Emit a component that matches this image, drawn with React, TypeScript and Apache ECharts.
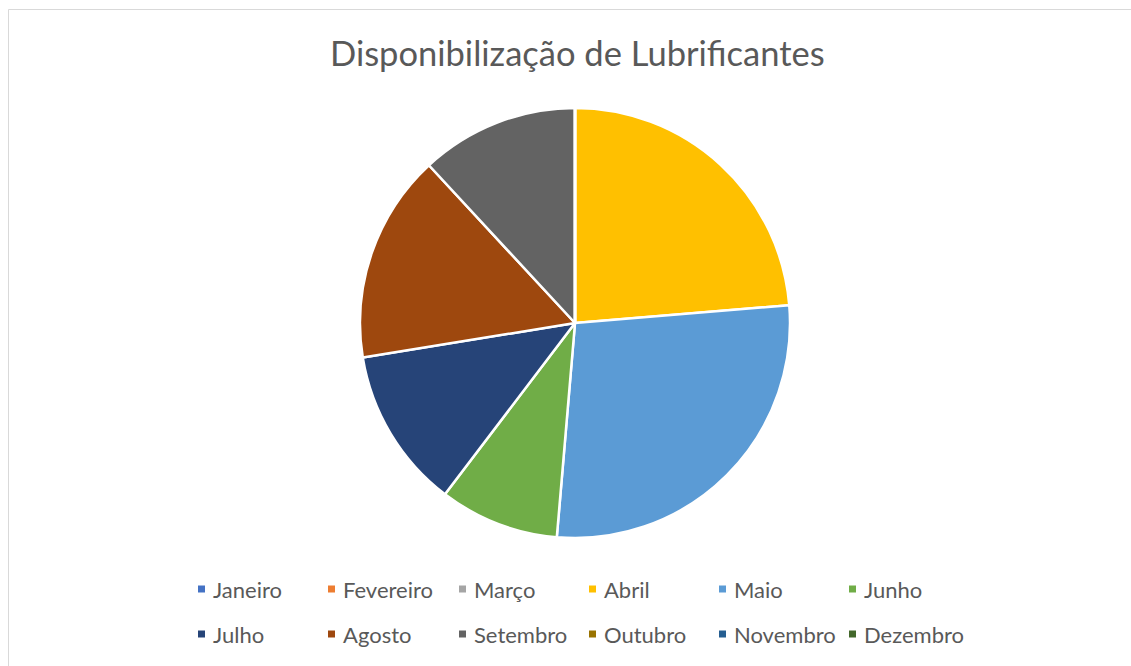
import React, { useEffect, useRef } from "react";
import * as echarts from "echarts";

const title = "Disponibilização de Lubrificantes";
const months = [
  "Janeiro", "Fevereiro", "Março", "Abril", "Maio", "Junho",
  "Julho", "Agosto", "Setembro", "Outubro", "Novembro", "Dezembro",
];
const values = [0, 0, 0, 23.7, 27.7, 9.0, 12.1, 15.7, 11.9, 0, 0, 0];
const colors = [
  "#4472C4", "#ED7D31", "#A5A5A5", "#FFC000", "#5B9BD5", "#70AD47",
  "#264478", "#9E480E", "#636363", "#997300", "#255E91", "#43682B",
];

export default function App() {
  const ref = useRef<HTMLDivElement>(null);
  useEffect(() => {
    if (!ref.current) return;
    const chart = echarts.init(ref.current, undefined, { renderer: "svg" });
    const font = "Lato, 'Open Sans', sans-serif";
    const legendLeft = [196, 326, 457, 587, 717, 847];
    const legendTop = [578, 623];
    const legends = months.map((m, i) => ({
      data: [m],
      left: legendLeft[i % 6],
      top: legendTop[Math.floor(i / 6)],
      orient: "horizontal",
      icon: "rect",
      itemWidth: 9,
      itemHeight: 9,
      padding: 0,
      selectedMode: false,
      textStyle: {
        fontFamily: font,
        fontSize: 22,
        color: "#595959",
        padding: [0, 0, 0, 2],
      },
    }));
    chart.setOption({
      animation: false,
      color: colors,
      title: {
        text: title,
        left: 330,
        top: 35,
        padding: 0,
        textStyle: {
          fontFamily: font,
          fontSize: 34.5,
          fontWeight: "normal",
          color: "#595959",
        },
      },
      graphic: [
        {
          type: "rect",
          shape: { x: 8.5, y: 9.5, width: 1140, height: 700 },
          style: { fill: "none", stroke: "#D9D9D9", lineWidth: 1 },
          silent: true,
        },
      ],
      legend: legends,
      series: [
        {
          type: "pie",
          center: [575, 323],
          radius: 215,
          startAngle: 90,
          clockwise: true,
          label: { show: false },
          labelLine: { show: false },
          emphasis: { disabled: true },
          itemStyle: { borderColor: "#FFFFFF", borderWidth: 2.5 },
          data: months.map((m, i) => ({ name: m, value: values[i] })),
        },
      ],
    });
    return () => chart.dispose();
  }, []);
  return (
    <div
      ref={ref}
      style={{ position: "absolute", left: 0, top: 0, width: 1131, height: 666 }}
    />
  );
}
